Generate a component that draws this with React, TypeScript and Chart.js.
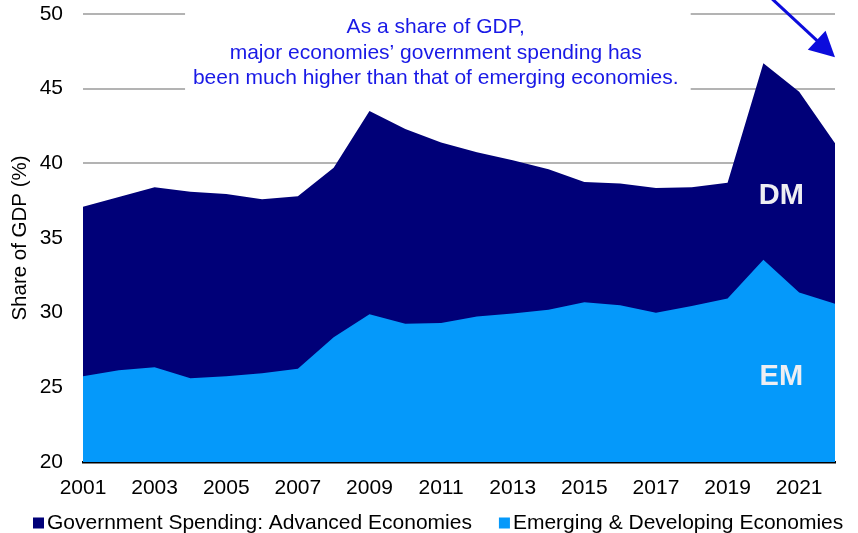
import React, { useEffect, useRef } from 'react';
import { Chart, registerables } from 'chart.js';

Chart.register(...registerables);

const years = ['2001','2002','2003','2004','2005','2006','2007','2008','2009','2010','2011','2012','2013','2014','2015','2016','2017','2018','2019','2020','2021','2022'];
const advancedEconomies = [37.1, 37.75, 38.4, 38.1, 37.95, 37.6, 37.8, 39.7, 43.5, 42.3, 41.4, 40.75, 40.2, 39.6, 38.75, 38.65, 38.35, 38.4, 38.7, 46.7, 44.8, 41.35];
const emergingEconomies = [25.75, 26.15, 26.35, 25.6, 25.75, 25.95, 26.25, 28.35, 29.9, 29.25, 29.3, 29.75, 29.95, 30.2, 30.7, 30.5, 30.0, 30.45, 30.95, 33.55, 31.35, 30.6];
const xTickLabels = ['2001','2003','2005','2007','2009','2011','2013','2015','2017','2019','2021'];
const seriesNames = ['Government Spending: Advanced Economies', 'Emerging & Developing Economies'];
const areaTags = ['DM', 'EM'];
const yAxisTitle = 'Share of GDP (%)';
const noteLines = ['As a share of GDP,', 'major economies\u2019 government spending has', 'been much higher than that of emerging economies.'];

const FONT = '"Liberation Sans", Arial, sans-serif';
const NAVY = '#000078';
const LIGHT = '#0599FA';
const NOTE_BLUE = '#1919E6';

const decorPlugin = {
  id: 'decor',
  beforeDatasetsDraw(chart: any) {
    const { ctx, scales: { x, y } } = chart;
    ctx.save();
    const x0 = x.getPixelForValue(2.85);
    const x1 = x.getPixelForValue(16.97);
    const yT = y.getPixelForValue(50.7);
    const yB = y.getPixelForValue(44.6);
    ctx.fillStyle = '#ffffff';
    ctx.fillRect(x0, yT, x1 - x0, yB - yT);
    ctx.fillStyle = NOTE_BLUE;
    ctx.font = `21px ${FONT}`;
    ctx.textAlign = 'center';
    ctx.textBaseline = 'middle';
    const cx = x.getPixelForValue(9.85);
    const vals = [49.1, 47.38, 45.68];
    noteLines.forEach((t, i) => ctx.fillText(t, cx, y.getPixelForValue(vals[i])));
    ctx.restore();
  },
  afterDatasetsDraw(chart: any) {
    const { ctx, scales: { x, y } } = chart;
    ctx.save();
    ctx.fillStyle = '#EEEEF2';
    ctx.font = `bold 29px ${FONT}`;
    ctx.textAlign = 'center';
    ctx.textBaseline = 'middle';
    ctx.fillText(areaTags[0], x.getPixelForValue(19.5), y.getPixelForValue(37.8));
    ctx.fillText(areaTags[1], x.getPixelForValue(19.5), y.getPixelForValue(25.7));
    const sx = x.getPixelForValue(19.25), sy = y.getPixelForValue(51.0);
    const tx = x.getPixelForValue(21), ty = y.getPixelForValue(47.1);
    const dx = tx - sx, dy = ty - sy;
    const len = Math.hypot(dx, dy);
    const ux = dx / len, uy = dy / len;
    const headLen = 25, headHalf = 13;
    const bx = tx - ux * headLen, by = ty - uy * headLen;
    ctx.strokeStyle = '#0C0CDC';
    ctx.fillStyle = '#0C0CDC';
    ctx.lineWidth = 3;
    ctx.beginPath();
    ctx.moveTo(sx, sy);
    ctx.lineTo(bx + ux * 2, by + uy * 2);
    ctx.stroke();
    ctx.beginPath();
    ctx.moveTo(tx, ty);
    ctx.lineTo(bx - uy * headHalf, by + ux * headHalf);
    ctx.lineTo(bx + uy * headHalf, by - ux * headHalf);
    ctx.closePath();
    ctx.fill();
    ctx.restore();
  },
  afterDraw(chart: any) {
    const { ctx } = chart;
    ctx.save();
    ctx.font = `21px ${FONT}`;
    ctx.textBaseline = 'middle';
    ctx.textAlign = 'left';
    let xx = 33;
    const cy = 523;
    chart.data.datasets.forEach((ds: any) => {
      ctx.fillStyle = ds.backgroundColor;
      ctx.fillRect(xx, cy - 5.5, 11, 11);
      xx += 14;
      ctx.fillStyle = '#000';
      ctx.fillText(ds.label, xx, cy);
      xx += ctx.measureText(ds.label).width + 27;
    });
    ctx.restore();
  },
};

export default function App() {
  const ref = useRef<HTMLCanvasElement>(null);
  useEffect(() => {
    if (!ref.current) return;
    const chart = new Chart(ref.current, {
      type: 'line',
      data: {
        labels: years,
        datasets: [
          {
            label: seriesNames[0],
            data: advancedEconomies,
            backgroundColor: NAVY,
            borderColor: NAVY,
            borderWidth: 0,
            pointRadius: 0,
            fill: 'start',
            tension: 0,
            order: 2,
          },
          {
            label: seriesNames[1],
            data: emergingEconomies,
            backgroundColor: LIGHT,
            borderColor: LIGHT,
            borderWidth: 0,
            pointRadius: 0,
            fill: 'start',
            tension: 0,
            order: 1,
          },
        ],
      },
      options: {
        responsive: false,
        devicePixelRatio: 1,
        animation: false,
        layout: { padding: { top: 14, right: 23, bottom: 31, left: 0 } },
        plugins: {
          legend: { display: false },
          tooltip: { enabled: false },
          title: { display: false },
        },
        scales: {
          x: {
            type: 'category',
            offset: false,
            grid: { display: false, drawTicks: false },
            border: { display: true, color: '#000', width: 2.5 },
            ticks: {
              autoSkip: false,
              maxRotation: 0,
              minRotation: 0,
              padding: 14,
              color: '#000',
              font: { family: FONT, size: 21 },
              callback: (_v: any, i: number) => (xTickLabels.includes(years[i]) ? years[i] : ''),
            },
            afterFit: (s: any) => { s.height = 40; s.paddingLeft = 0; s.paddingRight = 0; },
          },
          y: {
            min: 20,
            max: 50,
            grid: { color: '#B3B3B3', lineWidth: 2, drawTicks: false },
            border: { display: false },
            ticks: {
              stepSize: 5,
              padding: 20,
              color: '#000',
              font: { family: FONT, size: 21 },
            },
            title: {
              display: true,
              text: yAxisTitle,
              color: '#000',
              font: { family: FONT, size: 20.5 },
              padding: { top: 8, bottom: 0 },
            },
            afterFit: (s: any) => { s.width = 83; s.paddingTop = 0; s.paddingBottom = 0; },
          },
        },
      },
      plugins: [decorPlugin],
    });
    return () => chart.destroy();
  }, []);
  return (
    <div style={{ position: 'absolute', left: 0, top: 0, width: 858, height: 533 }}>
      <canvas ref={ref} width={858} height={533} />
    </div>
  );
}
